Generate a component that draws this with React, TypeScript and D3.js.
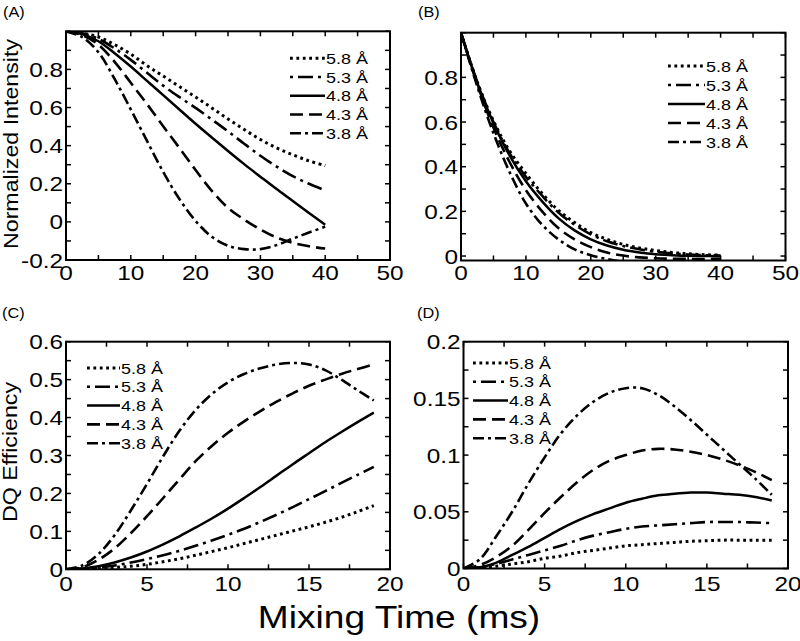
import React from "react";
import * as d3 from "d3";

// ---------- data ----------
const seriesLabels = ["5.8 Å", "5.3 Å", "4.8 Å", "4.3 Å", "3.8 Å"];

const timeAB = [0, 2.5, 5, 7.5, 10, 12.5, 15, 17.5, 20, 22.5, 25, 27.5, 30, 32.5, 35, 37.5, 40];
const a58 = [1, 0.99, 0.97, 0.93, 0.88, 0.82, 0.765, 0.71, 0.655, 0.598, 0.54, 0.485, 0.432, 0.388, 0.352, 0.32, 0.295];
const a53 = [1, 0.99, 0.96, 0.91, 0.85, 0.782, 0.715, 0.655, 0.598, 0.537, 0.475, 0.41, 0.347, 0.29, 0.24, 0.2, 0.165];
const a48 = [1, 0.985, 0.948, 0.885, 0.815, 0.74, 0.665, 0.59, 0.515, 0.443, 0.372, 0.303, 0.237, 0.172, 0.11, 0.047, -0.015];
const a43 = [1, 0.98, 0.93, 0.84, 0.73, 0.618, 0.502, 0.388, 0.272, 0.163, 0.074, 0.012, -0.04, -0.082, -0.11, -0.128, -0.14];
const a38 = [1, 0.97, 0.89, 0.75, 0.59, 0.425, 0.262, 0.12, 0.005, -0.078, -0.125, -0.143, -0.143, -0.122, -0.088, -0.056, -0.025];

const b58 = [1, 0.78, 0.605, 0.47, 0.37, 0.28, 0.205, 0.15, 0.105, 0.075, 0.052, 0.036, 0.025, 0.016, 0.01, 0.006, 0.004];
const b53 = [1, 0.78, 0.6, 0.46, 0.355, 0.27, 0.195, 0.14, 0.097, 0.066, 0.045, 0.03, 0.019, 0.012, 0.007, 0.004, 0.002];
const b48 = [1, 0.775, 0.595, 0.45, 0.335, 0.245, 0.17, 0.115, 0.075, 0.047, 0.028, 0.016, 0.008, 0.004, 0.001, 0.0, -0.001];
const b43 = [1, 0.77, 0.575, 0.42, 0.295, 0.2, 0.125, 0.075, 0.04, 0.016, 0.002, -0.006, -0.01, -0.012, -0.013, -0.013, -0.012];
const b38 = [1, 0.76, 0.55, 0.375, 0.235, 0.14, 0.075, 0.03, 0.004, -0.014, -0.026, -0.033, -0.036, -0.036, -0.034, -0.031, -0.028];

const timeCD = [0, 1, 2, 3, 4, 5, 6, 7, 8, 9, 10, 11, 12, 13, 14, 15, 16, 17, 18, 19];
const c58 = [0, 0.001, 0.002, 0.005, 0.008, 0.013, 0.02, 0.028, 0.037, 0.047, 0.057, 0.068, 0.079, 0.09, 0.101, 0.112, 0.124, 0.137, 0.152, 0.168];
const c53 = [0, 0.001, 0.004, 0.01, 0.018, 0.027, 0.037, 0.049, 0.062, 0.076, 0.091, 0.107, 0.125, 0.144, 0.164, 0.185, 0.206, 0.228, 0.249, 0.27];
const c48 = [0, 0.002, 0.008, 0.018, 0.031, 0.047, 0.066, 0.087, 0.11, 0.134, 0.16, 0.188, 0.217, 0.247, 0.277, 0.306, 0.335, 0.362, 0.388, 0.413];
const c43 = [0, 0.005, 0.025, 0.055, 0.095, 0.14, 0.188, 0.237, 0.285, 0.325, 0.36, 0.39, 0.417, 0.442, 0.464, 0.484, 0.5, 0.515, 0.528, 0.54];
const c38 = [0, 0.01, 0.04, 0.09, 0.155, 0.225, 0.298, 0.365, 0.42, 0.462, 0.493, 0.515, 0.53, 0.54, 0.544, 0.54, 0.525, 0.5, 0.472, 0.445];

const d58 = [0, 0.001, 0.002, 0.004, 0.006, 0.009, 0.011, 0.014, 0.016, 0.018, 0.02, 0.021, 0.022, 0.023, 0.024, 0.0245, 0.025, 0.025, 0.025, 0.025];
const d53 = [0, 0.001, 0.004, 0.008, 0.012, 0.016, 0.02, 0.025, 0.029, 0.032, 0.035, 0.037, 0.038, 0.039, 0.04, 0.041, 0.041, 0.041, 0.0405, 0.04];
const d48 = [0, 0.001, 0.005, 0.012, 0.019, 0.027, 0.035, 0.042, 0.048, 0.053, 0.058, 0.0615, 0.0645, 0.066, 0.067, 0.067, 0.066, 0.065, 0.063, 0.06];
const d43 = [0, 0.003, 0.01, 0.02, 0.034, 0.049, 0.063, 0.076, 0.087, 0.095, 0.1, 0.104, 0.1055, 0.105, 0.103, 0.1, 0.096, 0.091, 0.085, 0.078];
const d38 = [0, 0.008, 0.028, 0.05, 0.075, 0.098, 0.119, 0.135, 0.147, 0.155, 0.159, 0.159, 0.153, 0.143, 0.131, 0.118, 0.105, 0.092, 0.079, 0.065];

const ticksAx = [0, 10, 20, 30, 40, 50];
const ticksAy = [-0.2, 0, 0.2, 0.4, 0.6, 0.8];
const ticksBy = [0, 0.2, 0.4, 0.6, 0.8];
const ticksCx = [0, 5, 10, 15, 20];
const ticksCy = [0, 0.1, 0.2, 0.3, 0.4, 0.5, 0.6];
const ticksDy = [0, 0.05, 0.1, 0.15, 0.2];

// ---------- styles ----------
const DASHES = ["2.8,3.6", "3,5,15,5", null, "13,6", "11,4,3,4"];
const WIDTHS = [3, 2.6, 2.5, 2.6, 2.6];
const FONT = "'Liberation Sans', Arial, Helvetica, sans-serif";
const SX = 1.16;

function T({ x, y, size, anchor = "start", rot = 0, children }: any) {
  return (
    <text
      transform={`translate(${x},${y}) rotate(${rot}) scale(${SX},1)`}
      fontSize={size}
      fontFamily={FONT}
      textAnchor={anchor}
      fill="#000"
    >
      {children}
    </text>
  );
}

const fmt = (v: number) => (Math.abs(v) < 1e-9 ? "0" : String(+v.toFixed(3)));

function Panel(p: any) {
  const x = d3.scaleLinear().domain(p.xDomain).range([p.left, p.right]);
  const y = d3.scaleLinear().domain(p.yDomain).range([p.bottom, p.top]);
  const line = d3
    .line<[number, number]>()
    .x((d) => x(d[0]))
    .y((d) => y(d[1]))
    .curve(d3.curveCatmullRom.alpha(0.5));
  const xMinor = d3.range(p.xDomain[0], p.xDomain[1] + 1e-9, p.xMinorStep);
  const yStart = Math.ceil(p.yDomain[0] / p.yMinorStep - 1e-9) * p.yMinorStep;
  const yMinor = d3.range(yStart, p.yDomain[1] + 1e-9, p.yMinorStep);
  const tl = 5;
  const clipId = `clip-${p.id}`;
  return (
    <g>
      <defs>
        <clipPath id={clipId}>
          <rect x={p.left} y={p.top} width={p.right - p.left} height={p.bottom - p.top} />
        </clipPath>
      </defs>
      <g clipPath={`url(#${clipId})`}>
        {p.series.map((s: number[], i: number) => (
          <path
            key={i}
            d={line(p.time.map((t: number, k: number) => [t, s[k]]) as any) || ""}
            fill="none"
            stroke="#000"
            strokeWidth={WIDTHS[i]}
            strokeDasharray={DASHES[i] || undefined}
          />
        ))}
      </g>
      {/* ticks */}
      {xMinor.map((v: number, i: number) => (
        <g key={"xt" + i}>
          <line x1={x(v)} x2={x(v)} y1={p.bottom} y2={p.bottom - tl} stroke="#000" strokeWidth={1.5} />
          <line x1={x(v)} x2={x(v)} y1={p.top} y2={p.top + tl} stroke="#000" strokeWidth={1.5} />
        </g>
      ))}
      {yMinor.map((v: number, i: number) => (
        <g key={"yt" + i}>
          <line x1={p.left} x2={p.left + tl} y1={y(v)} y2={y(v)} stroke="#000" strokeWidth={1.5} />
          <line x1={p.right} x2={p.right - tl} y1={y(v)} y2={y(v)} stroke="#000" strokeWidth={1.5} />
        </g>
      ))}
      <rect x={p.left} y={p.top} width={p.right - p.left} height={p.bottom - p.top} fill="none" stroke="#000" strokeWidth={2} />
      {/* tick labels */}
      {p.xLabels.map((v: number) => (
        <T key={"xl" + v} x={x(v)} y={p.xLabelY} size={21} anchor="middle">
          {fmt(v)}
        </T>
      ))}
      {p.yLabels.map((v: number) => (
        <T key={"yl" + v} x={p.left - 3} y={y(v) + 7.5} size={21} anchor="end">
          {fmt(v)}
        </T>
      ))}
      {/* legend */}
      {seriesLabels.map((lab, i) => {
        const ry = p.legY + i * p.legStep;
        return (
          <g key={"lg" + i}>
            <line
              x1={p.legX0}
              x2={p.legX1}
              y1={ry}
              y2={ry}
              stroke="#000"
              strokeWidth={WIDTHS[i]}
              strokeDasharray={DASHES[i] || undefined}
            />
            <T x={p.legX1 + 1} y={ry + 5.5} size={15.5}>
              {lab}
            </T>
          </g>
        );
      })}
      <T x={p.tagX} y={p.tagY} size={14}>
        {p.tag}
      </T>
    </g>
  );
}

export default function App() {
  return (
    <svg
      width={800}
      height={641}
      style={{ position: "absolute", left: 0, top: 0, background: "#fff" }}
    >
      <rect x={0} y={0} width={800} height={641} fill="#fff" />
      <Panel
        id="A"
        tag="(A)"
        tagX={3}
        tagY={16.5}
        left={66}
        right={390}
        top={31.3}
        bottom={260}
        xDomain={[0, 50]}
        yDomain={[-0.2, 1.0]}
        xMinorStep={5}
        yMinorStep={0.1}
        xLabels={ticksAx}
        yLabels={ticksAy}
        xLabelY={280}
        time={timeAB}
        series={[a58, a53, a48, a43, a38]}
        legX0={290}
        legX1={325}
        legY={58.3}
        legStep={18.75}
      />
      <Panel
        id="B"
        tag="(B)"
        tagX={418}
        tagY={17}
        left={461}
        right={785.5}
        top={32.7}
        bottom={260.5}
        xDomain={[0, 50]}
        yDomain={[-0.02, 1.0]}
        xMinorStep={5}
        yMinorStep={0.1}
        xLabels={ticksAx}
        yLabels={ticksBy}
        xLabelY={280}
        time={timeAB}
        series={[b58, b53, b48, b43, b38]}
        legX0={668}
        legX1={705}
        legY={66}
        legStep={19}
      />
      <Panel
        id="C"
        tag="(C)"
        tagX={2}
        tagY={318}
        left={66}
        right={390}
        top={341.7}
        bottom={569.3}
        xDomain={[0, 20]}
        yDomain={[0, 0.6]}
        xMinorStep={2.5}
        yMinorStep={0.05}
        xLabels={ticksCx}
        yLabels={ticksCy}
        xLabelY={591}
        time={timeCD}
        series={[c58, c53, c48, c43, c38]}
        legX0={87}
        legX1={120}
        legY={368}
        legStep={18.8}
      />
      <Panel
        id="D"
        tag="(D)"
        tagX={417}
        tagY={318}
        left={463.5}
        right={788}
        top={341.7}
        bottom={568.5}
        xDomain={[0, 20]}
        yDomain={[0, 0.2]}
        xMinorStep={2.5}
        yMinorStep={0.025}
        xLabels={ticksCx}
        yLabels={ticksDy}
        xLabelY={590.5}
        time={timeCD}
        series={[d58, d53, d48, d43, d38]}
        legX0={473}
        legX1={508}
        legY={363}
        legStep={18.8}
      />
      <T x={18} y={144} size={20} anchor="middle" rot={-90}>
        Normalized Intensity
      </T>
      <T x={17} y={452} size={20} anchor="middle" rot={-90}>
        DQ Efficiency
      </T>
      <T x={399} y={628} size={32} anchor="middle">
        Mixing Time (ms)
      </T>
    </svg>
  );
}
